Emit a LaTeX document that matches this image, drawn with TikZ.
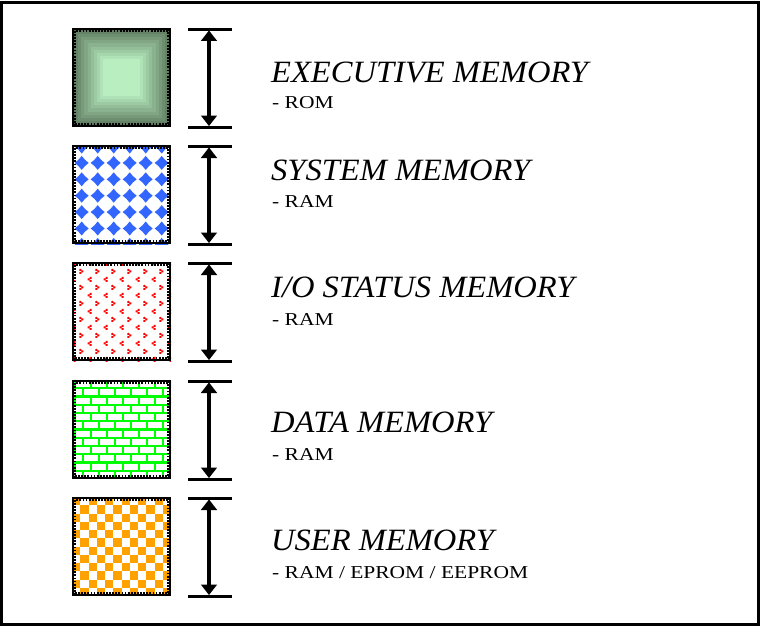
\documentclass[tikz,border=0pt]{standalone}
\usepackage{fontspec}
\newfontfamily\memhead[FakeStretch=1.05]{Liberation Serif}
\newfontfamily\memsub[FakeStretch=1.18]{Liberation Serif}
\definecolor{gout}{RGB}{92,118,92}
\definecolor{gin}{RGB}{184,238,192}
\definecolor{pblue}{RGB}{51,102,255}
\definecolor{pred}{RGB}{255,0,0}
\definecolor{pgreen}{RGB}{0,255,0}
\definecolor{porange}{RGB}{255,162,0}
\newcommand\memframe[1]{%
  \draw[sqedge] (73.1,#1+1.1) rectangle (169.9,#1+97.9);
  \draw[sqticks] (75,#1+3) rectangle (168,#1+96);}
\begin{document}
\begin{tikzpicture}[x=1pt,y=-1pt,
  headtext/.style={anchor=base west,inner sep=0pt,font=\memhead\itshape\fontsize{31}{37}\selectfont},
  subtext/.style={anchor=base west,inner sep=0pt,font=\memsub\fontsize{18.2}{22}\selectfont},
  bar/.style={line width=3pt},
  shaft/.style={line width=3.3pt},
  arrowtip/.style={fill=black},
  sqedge/.style={draw=black,line width=2.2pt},
  sqticks/.style={draw=black,line width=1.6pt,dash pattern=on 1.8pt off 1.3pt},
]
\useasboundingbox (0,0) rectangle (760,626);
\draw[line width=3pt] (1.5,2.5) rectangle (758.5,624);

% --- square 1: gradient
\foreach \i in {0,...,10}{
  \pgfmathtruncatemacro\pc{\i*10}
  \pgfmathsetmacro\ins{\i*3.1}
  \fill[gin!\pc!gout] (72+\ins,28+\ins) rectangle (171-\ins,127-\ins);
}
\memframe{28}

% --- square 2: blue stars
\fill[white] (72,145) rectangle (171,244);
\begin{scope}
\clip (72,145) rectangle (171,244);
\foreach \c in {0,...,5}{\foreach \r in {0,...,6}{
  \fill[pblue,shift={(81.7+16*\c,146.5+16.4*\r)}] (-7,0) -- (-3.2,-3.2) -- (0,-7) -- (3.2,-3.2) -- (7,0) -- (3.2,3.2) -- (0,7) -- (-3.2,3.2) -- cycle;
}}
\end{scope}
\memframe{145}

% --- square 3: red marks
\fill[white] (72,262) rectangle (171,361);
\begin{scope}
\clip (72,262) rectangle (171,361);
\foreach \r in {0,...,12}{
  \ifodd\r
    \foreach \k in {0,...,5}{
      \fill[pred,shift={(81.3+16*\k,263.3+8*\r)}] (-2,-2.5) rectangle (0,-0.5) (0,-1) rectangle (2,1) (-2,0.5) rectangle (0,2.5);
    }
  \else
    \foreach \k in {0,...,6}{
      \fill[pred,shift={(73.7+16*\k,263.3+8*\r)}] (2,-2.5) rectangle (0,-0.5) (0,-1) rectangle (-2,1) (2,0.5) rectangle (0,2.5);
    }
  \fi
}
\end{scope}
\memframe{262}

% --- square 4: green bricks
\fill[white] (72,380) rectangle (171,479);
\begin{scope}
\clip (72,380) rectangle (171,479);
\foreach \k in {1,...,11}{
  \draw[pgreen,line width=2.2pt] (72,380+8.25*\k) -- (171,380+8.25*\k);
}
\foreach \k in {0,...,11}{
  \ifodd\k \def\boff{10.7}\else \def\boff{2.7}\fi
  \foreach \j in {0,...,6}{
    \draw[pgreen,line width=2.2pt] (72+\boff+16*\j,380+8.25*\k) -- ++(0,8.25);
  }
}
\end{scope}
\memframe{380}

% --- square 5: orange checkerboard
\fill[white] (72,497) rectangle (171,596);
\foreach \i in {0,...,11}{\foreach \j in {0,...,11}{
  \pgfmathtruncatemacro\chk{mod(\i+\j,2)}
  \ifnum\chk=0 \fill[porange] (72+8.25*\i,497+8.25*\j) rectangle ++(8.25,8.25); \fi
}}
\memframe{497}

% --- dimension arrows
\coordinate (a1t) at (209,29.5);  \coordinate (a1b) at (209,127);
\coordinate (a2t) at (209,146.5); \coordinate (a2b) at (209,244);
\coordinate (a3t) at (209,263.5); \coordinate (a3b) at (209,361);
\coordinate (a4t) at (209,381.5); \coordinate (a4b) at (209,479);
\coordinate (a5t) at (209,498.5); \coordinate (a5b) at (209,596);
\foreach \n in {1,...,5}{
  \draw[bar] ([xshift=-21pt]a\n t) -- ([xshift=23pt]a\n t);
  \draw[bar] ([xshift=-21pt]a\n b) -- ([xshift=23pt]a\n b);
  \draw[shaft] ([yshift=-8pt]a\n t) -- ([yshift=8pt]a\n b);
  \fill[arrowtip] ([yshift=-1pt]a\n t) -- ([shift={(8.2,11.5)}]a\n t) -- ([shift={(-8.2,11.5)}]a\n t) -- cycle;
  \fill[arrowtip] ([yshift=1pt]a\n b) -- ([shift={(8.2,-11.5)}]a\n b) -- ([shift={(-8.2,-11.5)}]a\n b) -- cycle;
}

% --- labels
\node[headtext] (h1) at (271,82) {EXECUTIVE MEMORY};
\node[subtext]  (s1) at (272,108) {- ROM};
\node[headtext] (h2) at (271,180) {SYSTEM MEMORY};
\node[subtext]  (s2) at (272,207) {- RAM};
\node[headtext] (h3) at (271,297) {I/O STATUS MEMORY};
\node[subtext]  (s3) at (272,325) {- RAM};
\node[headtext] (h4) at (271,432) {DATA MEMORY};
\node[subtext]  (s4) at (272,460) {- RAM};
\node[headtext] (h5) at (271,550) {USER MEMORY};
\node[subtext]  (s5) at (272,578) {- RAM / EPROM / EEPROM};
\end{tikzpicture}
\end{document}
